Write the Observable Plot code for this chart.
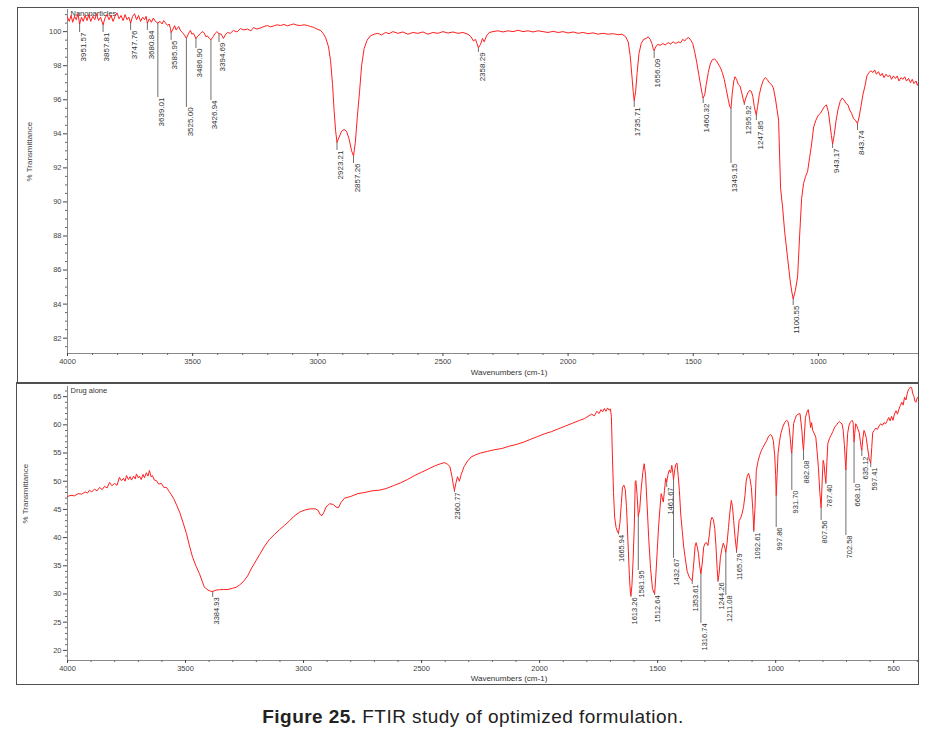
<!DOCTYPE html>
<html><head><meta charset="utf-8">
<script src="https://cdn.jsdelivr.net/npm/d3@7"></script>
<script src="https://cdn.jsdelivr.net/npm/@observablehq/plot@0.6"></script>
<style>
body{margin:0;background:#fff;}
#wrap{position:relative;width:946px;height:737px;font-family:"Liberation Sans",Arial,sans-serif;overflow:hidden;}
.panel{position:absolute;}
.frame{position:absolute;border:1.5px solid #505050;box-sizing:border-box;pointer-events:none;}
#caption{position:absolute;left:0;width:946px;top:706px;line-height:22px;text-align:center;font-size:19px;letter-spacing:0.45px;color:#222;}
</style></head><body>
<div id="wrap">
  <div id="top" class="panel" style="left:18px;top:8px"></div>
  <div id="bot" class="panel" style="left:17px;top:383px"></div>
  <div class="frame" style="left:17px;top:7px;width:902px;height:377px"></div>
  <div class="frame" style="left:16px;top:382px;width:903px;height:303px"></div>
  <div id="caption"><b>Figure 25.</b> FTIR study of optimized formulation.</div>
</div>
<script>
// ---------- DATA ----------
const topTitle = "Nanoparticles";
const botTitle = "Drug alone";
const yLabel = "% Transmittance";
const xLabel = "Wavenumbers (cm-1)";

const topXTicks = [4000, 3500, 3000, 2500, 2000, 1500, 1000];
const topYTicks = [82, 84, 86, 88, 90, 92, 94, 96, 98, 100];
const botXTicks = [4000, 3500, 3000, 2500, 2000, 1500, 1000, 500];
const botYTicks = [20, 25, 30, 35, 40, 45, 50, 55, 60, 65];

// [wavenumber, %T]
const topSpectrum = [
[4000,100.85],[3993,100.6],[3986,100.95],[3979,100.55],[3972,100.9],[3965,100.7],[3958,101.05],[3951.57,100.45],[3944,100.85],[3937,100.6],[3930,100.95],[3922,100.65],[3915,101.0],[3907,100.6],[3899,100.9],[3891,100.7],[3884,101.05],[3876,100.65],[3868,100.85],[3857.81,100.4],[3850,100.8],[3842,101.0],[3834,100.7],[3826,100.95],[3818,100.6],[3810,100.9],[3802,101.1],[3794,100.75],[3786,100.95],[3778,100.65],[3770,101.0],[3762,100.7],[3755,100.85],[3747.76,100.5],[3740,100.9],[3732,101.05],[3724,100.7],[3716,100.95],[3708,100.6],[3700,100.85],[3692,100.7],[3686,100.9],[3680.84,100.5],[3673,100.75],[3665,100.55],[3657,100.8],[3649,100.6],[3639.01,100.5],[3630,100.6],[3622,100.45],[3616,100.65],[3608,100.5],[3600,100.36],[3594,100.45],[3589,100.2],[3585.95,99.95],[3580,100.1],[3572,100.35],[3566,100.1],[3556,100.3],[3548,100.05],[3541,99.95],[3533,99.8],[3525.00,99.62],[3516,99.9],[3509,100.07],[3503,99.85],[3497,99.9],[3486.90,99.6],[3478,99.75],[3469,99.89],[3462,100.0],[3455,99.95],[3447,99.7],[3441,99.75],[3433,99.6],[3426.94,99.52],[3418,99.7],[3410,99.9],[3403,100.0],[3394.69,99.88],[3386,99.85],[3377,99.6],[3370,99.8],[3361,99.95],[3350,99.9],[3337,100.07],[3323,99.98],[3309,100.18],[3295,100.1],[3281,100.15],[3267,100.05],[3257,100.24],[3243,100.15],[3229,100.22],[3215,100.3],[3201,100.36],[3189,100.28],[3177,100.33],[3163,100.4],[3149,100.36],[3135,100.42],[3121,100.34],[3109,100.4],[3097,100.45],[3083,100.38],[3069,100.36],[3055,100.4],[3041,100.36],[3029,100.3],[3017,100.25],[3003,100.15],[2989,100.07],[2979,99.9],[2969,99.66],[2957,99.1],[2949,98.3],[2941,96.9],[2935,95.4],[2929,94.2],[2923.21,93.5],[2915,93.8],[2905,94.15],[2895,94.25],[2885,94.15],[2875,93.7],[2865,93.0],[2857.26,92.7],[2850,93.5],[2842,95.0],[2833,96.5],[2825,98.0],[2815,99.0],[2803,99.5],[2790,99.75],[2775,99.85],
[2760,99.9],[2745,99.8],[2730,99.95],[2715,99.88],[2700,100.0],[2680,99.9],[2660,99.98],[2640,99.85],[2620,99.95],[2600,99.9],[2580,99.98],[2560,99.85],[2540,99.95],[2520,99.9],[2500,100.0],[2480,99.92],[2460,99.98],[2440,99.9],[2420,99.95],[2400,99.85],[2388,99.7],[2378,99.45],[2370,99.55],[2364,99.3],[2358.29,99.05],[2350,99.25],[2342,99.6],[2335,99.4],[2326,99.75],[2315,99.95],[2300,100.0],[2280,100.05],[2260,99.98],[2240,100.05],[2220,100.0],[2200,100.08],[2180,100.0],[2160,100.05],[2140,99.98],[2120,100.05],[2100,100.0],[2080,99.95],[2060,100.02],[2040,99.95],[2020,100.0],[2000,99.92],[1980,99.98],[1960,99.9],[1940,99.95],[1920,99.88],[1900,99.93],[1880,99.85],[1860,99.9],[1840,99.85],[1820,99.88],[1800,99.82],[1785,99.85],[1770,99.7],[1760,99.4],[1752,98.6],[1745,97.4],[1740,96.5],[1735.71,95.95],[1730,96.5],[1724,97.6],[1717,98.7],[1708,99.3],[1698,99.55],[1688,99.6],[1680,99.7],[1672,99.55],[1665,99.3],[1660,99.0],[1656.09,98.9],[1650,99.1],[1642,99.25],[1632,99.2],[1622,99.3],[1612,99.22],[1600,99.35],[1590,99.28],[1580,99.4],[1570,99.3],[1560,99.4],[1550,99.35],[1542,99.55],[1534,99.45],[1526,99.6],[1518,99.65],[1510,99.5],[1502,99.3],[1494,98.8],[1486,98.2],[1478,97.5],[1470,96.8],[1463,96.25],[1460.32,96.1],[1454,96.3],[1448,96.9],[1440,97.6],[1432,98.1],[1424,98.35],[1416,98.4],[1408,98.3],[1400,98.1],[1392,97.9],[1384,97.6],[1376,97.2],[1368,96.6],[1360,96.0],[1354,95.6],[1349.15,95.5],[1344,96.4],[1338,97.1],[1333,97.35],[1327,97.2],[1320,96.9],[1313,96.8],[1306,96.4],[1300,96.0],[1295.92,95.8],[1290,96.1],[1282,96.4],[1275,96.55],[1268,96.5],[1262,96.2],[1256,95.6],[1250,95.2],[1247.85,95.1],[1243,95.6],[1236,96.3],[1228,96.8],[1220,97.15],[1212,97.3],[1205,97.2],[1196,97.0],[1188,96.9],[1180,96.7],[1172,96.1],[1165,95.4],[1159,94.8],[1151,90.8],[1143,89.7],[1135,88.3],[1123,86.7],[1112,85.3],[1106,84.7],[1100.55,84.3],[1092,84.8],[1083,85.6],[1075,88.0],[1067,90.2],[1059,91.1],[1051,91.5],[1043,91.8],[1035,92.6],[1027,93.4],[1019,94.4],[1010,94.8],[1000,95.1],[992,95.2],[984,95.4],[976,95.6],[968,95.7],[960,95.3],[954,94.6],[948,93.9],[943.17,93.4],[937,93.9],[930,94.7],[922,95.4],[913,95.9],[905,96.1],[898,96.0],[890,95.8],[882,95.7],[875,95.4],[867,95.2],[860,94.9],[852,94.8],[843.74,94.6],[837,95.0],[830,95.6],[822,96.3],[814,96.8],[806,97.4],[798,97.6],[790,97.7],[782,97.6],[775,97.75],[768,97.5],[760,97.65],[752,97.4],[745,97.55],[738,97.3],[730,97.5],[722,97.35],[715,97.45],[708,97.2],[700,97.4],[692,97.25],[685,97.4],[678,97.1],[670,97.3],[662,97.2],[655,97.35],[648,97.1],[640,97.25],[632,97.0],[625,97.2],[618,96.95],[610,97.1],[604,96.85],[600,97.0]
];

const botSpectrum = [
[4000,47.3],[3985,47.5],[3970,47.4],[3955,47.8],[3940,47.7],[3925,48.1],[3915,47.9],[3907,48.4],[3897,48.1],[3886,48.6],[3875,48.3],[3864,48.9],[3853,48.5],[3843,49.1],[3832,48.8],[3822,49.8],[3812,49.2],[3801,49.6],[3790,49.3],[3780,50.7],[3771,50.1],[3763,50.5],[3756,50.0],[3750,51.0],[3742,50.3],[3735,50.8],[3729,50.2],[3720,50.9],[3713,50.4],[3708,51.3],[3700,50.6],[3695,50.9],[3688,50.3],[3680,51.2],[3674,50.6],[3666,51.5],[3659,50.9],[3653,51.9],[3646,50.8],[3640,51.0],[3632,50.2],[3623,50.1],[3614,49.5],[3602,49.6],[3592,48.9],[3581,48.9],[3570,48.2],[3560,47.6],[3550,46.9],[3538,45.8],[3525,44.5],[3510,42.6],[3496,40.7],[3483,38.5],[3470,36.5],[3455,34.9],[3441,33.6],[3430,32.3],[3420,31.2],[3405,30.7],[3395,30.5],[3384.93,30.45],[3370,30.7],[3356,30.75],[3340,30.8],[3320,30.8],[3301,31.0],[3285,31.2],[3271,31.6],[3255,32.2],[3237,33.2],[3220,34.6],[3200,36.0],[3186,37.0],[3165,38.5],[3144,39.7],[3122,40.6],[3102,41.4],[3080,42.2],[3059,43.0],[3040,43.8],[3017,44.5],[2995,44.9],[2970,45.1],[2950,45.1],[2938,44.8],[2930,44.1],[2922,43.9],[2914,44.5],[2905,45.4],[2890,46.0],[2875,45.9],[2862,45.4],[2852,45.3],[2842,46.2],[2826,47.0],[2800,47.3],[2770,47.8],[2740,48.0],[2710,48.3],[2680,48.4],[2650,48.7],[2620,49.2],[2590,49.7],[2560,50.3],[2530,51.0],[2500,51.6],[2470,52.2],[2445,52.7],[2420,53.1],[2403,53.3],[2390,53.0],[2380,52.6],[2372,51.0],[2365,49.2],[2360.77,48.4],[2355,49.6],[2348,50.8],[2340,50.0],[2332,51.2],[2320,52.6],[2305,53.6],[2290,54.3],[2270,54.7],[2250,55.0],[2220,55.3],[2190,55.6],[2160,55.8],[2130,56.2],[2100,56.5],[2070,56.9],[2040,57.4],[2010,57.9],[1980,58.4],[1950,58.8],[1920,59.3],[1890,59.8],[1860,60.3],[1830,60.8],[1810,61.1],[1795,61.5],[1780,61.9],[1768,61.6],[1758,62.4],[1748,62.0],[1740,62.7],[1733,62.3],[1726,62.9],[1719,62.4],[1712,63.0],[1706,62.6],[1700,62.8],[1696,61.5],[1692,55.0],[1687,48.0],[1682,43.5],[1676,41.8],[1670,41.0],[1665.94,40.8],[1660,42.5],[1654,46.0],[1649,48.9],[1643,49.3],[1637,48.5],[1632,45.5],[1626,39.5],[1620,33.5],[1616,30.5],[1613.26,29.7],[1609,31.5],[1604,36.0],[1599,42.0],[1595,49.8],[1592,50.1],[1587,47.5],[1581.95,43.8],[1576,45.0],[1570,48.5],[1563,51.5],[1557,53.1],[1551,51.0],[1545,46.0],[1538,40.0],[1530,34.5],[1522,31.0],[1516,30.2],[1512.64,30.1],[1508,33.0],[1502,37.5],[1496,42.0],[1490,45.3],[1485,47.8],[1480,47.0],[1476,46.3],[1471,48.4],[1466,50.5],[1461.67,49.9],[1456,51.2],[1450,52.0],[1445,51.5],[1440,52.8],[1436,51.6],[1432.67,50.3],[1428,52.0],[1423,53.0],[1418,53.2],[1413,51.0],[1408,48.4],[1402,44.0],[1396,41.3],[1390,38.5],[1383,36.3],[1375,34.0],[1366,33.0],[1360,32.6],[1353.61,32.4],[1347,35.5],[1341,38.6],[1337,39.1],[1332,38.3],[1327,37.2],[1322,35.0],[1316.74,33.6],[1311,35.5],[1305,38.3],[1299,39.0],[1293,39.1],[1287,38.6],[1281,40.5],[1275,43.0],[1270,43.6],[1264,43.2],[1258,41.6],[1253,38.5],[1248,34.5],[1244.26,32.4],[1240,33.5],[1234,36.5],[1228,38.0],[1222,39.0],[1216,38.3],[1211.08,37.4],[1206,39.0],[1200,41.8],[1194,44.5],[1188,46.6],[1183,45.5],[1178,43.0],[1172,40.0],[1165.79,37.7],[1160,40.5],[1155,43.0],[1148,43.5],[1142,44.3],[1136,45.5],[1130,47.5],[1125,50.0],[1120,51.0],[1115,51.4],[1109,50.5],[1103,48.9],[1097,45.0],[1092.61,41.3],[1088,45.0],[1082,51.9],[1075,53.5],[1068,54.6],[1061,55.4],[1054,56.0],[1046,56.6],[1038,57.2],[1030,58.0],[1022,58.3],[1016,58.0],[1010,57.2],[1004,54.5],[1000,51.0],[997.86,47.5],[994,51.0],[990,54.9],[984,57.0],[978,58.5],[970,59.6],[962,60.4],[954,60.8],[948,60.6],[943,59.5],[938,57.5],[934,55.5],[931.70,55.0],[928,57.5],[924,60.2],[918,61.0],[912,61.7],[904,61.9],[897,62.0],[893,60.5],[889,59.0],[885,56.5],[882.08,55.5],[878,58.5],[874,61.3],[868,62.2],[862,62.7],[856,61.0],[852,59.5],[848,60.4],[843,59.0],[836,58.4],[830,57.8],[824,55.0],[819,52.4],[813,48.0],[807.56,45.3],[803,50.0],[799,53.7],[795,53.0],[791,51.0],[787.40,49.8],[783,53.5],[779,56.7],[772,57.6],[766,58.1],[758,58.8],[750,59.6],[742,60.0],[735,60.4],[730,60.6],[724,60.3],[719,60.2],[714,59.0],[709,56.5],[705,53.5],[702.58,52.0],[699,55.5],[695,58.5],[690,59.8],[685,60.4],[680,60.6],[676,60.8],[672,60.4],[670,58.5],[668.10,57.0],[665,58.5],[661,60.2],[656,59.8],[651,59.2],[646,58.6],[641,57.0],[638,56.0],[635.12,55.5],[631,57.5],[626,59.0],[621,58.5],[616,57.6],[611,56.0],[604,54.0],[597.41,53.2],[593,56.0],[589,58.6],[583,59.0],[576,59.4],[569,59.2],[562,59.8],[555,60.2],[548,59.9],[541,60.4],[534,60.2],[527,60.8],[521,61.3],[515,60.7],[509,61.5],[503,60.8],[497,61.9],[490,62.5],[484,61.9],[478,62.8],[472,63.4],[466,64.0],[460,63.5],[454,64.9],[448,64.4],[443,65.5],[438,66.2],[433,66.5],[429,66.7],[424,66.6],[419,65.5],[414,65.0],[410,64.2],[406,64.0],[400,64.8],[396,65.0]
];

// peaks: [wavenumber, %T at the band, %T where its label starts]
const topPeaks = [
[3951.57,100.45,99.95],[3857.81,100.4,99.95],[3747.76,100.5,100.07],[3680.84,100.5,100.07],
[3639.01,100.5,96.13],[3585.95,99.95,99.48],[3525.00,99.62,95.55],[3486.90,99.6,99.01],
[3426.94,99.52,95.96],[3394.69,99.88,99.36],[2923.21,93.5,93.02],[2857.26,92.7,92.26],
[2358.29,99.05,98.78],[1735.71,95.95,95.55],[1656.09,98.9,98.42],[1460.32,96.1,95.78],
[1349.15,95.5,92.26],[1295.92,95.8,95.66],[1247.85,95.1,94.78],[1100.55,84.3,83.92],
[943.17,93.4,93.14],[843.74,94.6,94.19]
];
const botPeaks = [
[3384.93,30.45,29.39],[2360.77,48.4,48.0],[1665.94,40.8,40.5],[1613.26,29.7,29.39],
[1581.95,43.8,34.18],[1512.64,30.1,29.74],[1461.67,49.9,48.89],[1432.67,50.3,36.3],
[1353.61,32.4,31.7],[1316.74,33.6,24.78],[1244.26,32.4,32.05],[1211.08,37.4,29.74],
[1165.79,37.7,37.19],[1092.61,41.3,40.91],[997.86,47.5,41.8],[931.70,55.0,48.36],
[882.08,55.5,53.68],[807.56,45.3,43.04],[787.40,49.8,49.42],[702.58,52.0,40.38],
[668.10,57.0,49.6],[635.12,55.5,54.39],[597.41,53.2,52.44]
];

// ---------- DRAW ----------
const RED = "#ff1e1e";
const font = "Liberation Sans, Arial, sans-serif";

function panel(o) {
  const [x0, x1] = o.xDomain, [y0, y1] = o.yDomain;
  const xMinor = d3.range(Math.ceil(Math.min(x0, x1) / 100) * 100, Math.max(x0, x1) + 1, 100).filter(v => v % 500 !== 0);
  const yMinor = d3.range(Math.ceil(y0 / o.yMinorStep) * o.yMinorStep, y1, o.yMinorStep)
    .filter(v => !o.yTicks.some(t => Math.abs(t - v) < 1e-6));
  const peaks = o.peaks.map(([w, t, lab]) => ({w, t, lab}));
  return Plot.plot({
    width: o.width, height: o.height,
    marginLeft: o.ml, marginRight: 0, marginTop: o.mt, marginBottom: o.mb,
    x: {domain: o.xDomain},
    y: {domain: o.yDomain},
    style: {fontFamily: font, background: "transparent", overflow: "visible", color: "#333"},
    marks: [
      Plot.ruleY([y0], {stroke: "#8a8a8a", strokeWidth: 1}),
      Plot.ruleX([x0], {stroke: "#8a8a8a", strokeWidth: 1}),
      Plot.axisX({ticks: o.xTicks, tickSize: 3, tickPadding: 2, fontSize: 7.5, tickFormat: d => String(d), label: null, color: "#444"}),
      Plot.axisX({ticks: xMinor, tickSize: 2, tickFormat: () => "", label: null, color: "#666"}),
      Plot.axisY({ticks: o.yTicks, tickSize: 4, tickPadding: 2, fontSize: 7.5, tickFormat: d => String(d), label: null, color: "#444"}),
      Plot.axisY({ticks: yMinor, tickSize: 2, tickFormat: () => "", label: null, color: "#666"}),
      Plot.text([yLabel], {frameAnchor: "left", dx: o.ylabDx, rotate: -90, fontSize: 8, fill: "#444"}),
      Plot.text([xLabel], {frameAnchor: "bottom", dx: 16, dy: o.xlabDy, fontSize: 8, fill: "#333"}),
      Plot.text([o.title], {frameAnchor: "top-left", dx: 3, dy: o.titleDy, textAnchor: "start", lineAnchor: "top", fontSize: 7.5, fill: "#333"}),
      Plot.ruleX(peaks, {x: "w", y1: "t", y2: "lab", stroke: "#6f6f6f", strokeWidth: 1}),
      Plot.line(o.data, {x: d => d[0], y: d => d[1], stroke: RED, strokeWidth: 1}),
      Plot.text(peaks, {x: "w", y: "lab", text: d => d.w.toFixed(2), rotate: -90, textAnchor: "end", lineAnchor: "top", dx: 0.5, fontSize: o.peakFont, fill: "#333"})
    ]
  });
}

document.getElementById("top").appendChild(panel({
  data: topSpectrum, peaks: topPeaks, title: topTitle,
  xDomain: [4000, 600], yDomain: [81.1, 101.3],
  xTicks: topXTicks, yTicks: topYTicks, yMinorStep: 0.5,
  width: 900, height: 375, ml: 49, mt: 1, mb: 30,
  ylabDx: -38, xlabDy: 21, titleDy: 1, peakFont: 8
}));

document.getElementById("bot").appendChild(panel({
  data: botSpectrum, peaks: botPeaks, title: botTitle,
  xDomain: [4000, 395], yDomain: [18.2, 66.8],
  xTicks: botXTicks, yTicks: botYTicks, yMinorStep: 1,
  width: 901, height: 301, ml: 50, mt: 3, mb: 24,
  ylabDx: -42, xlabDy: 20, titleDy: 1, peakFont: 7.5
}));
</script>
</body></html>
